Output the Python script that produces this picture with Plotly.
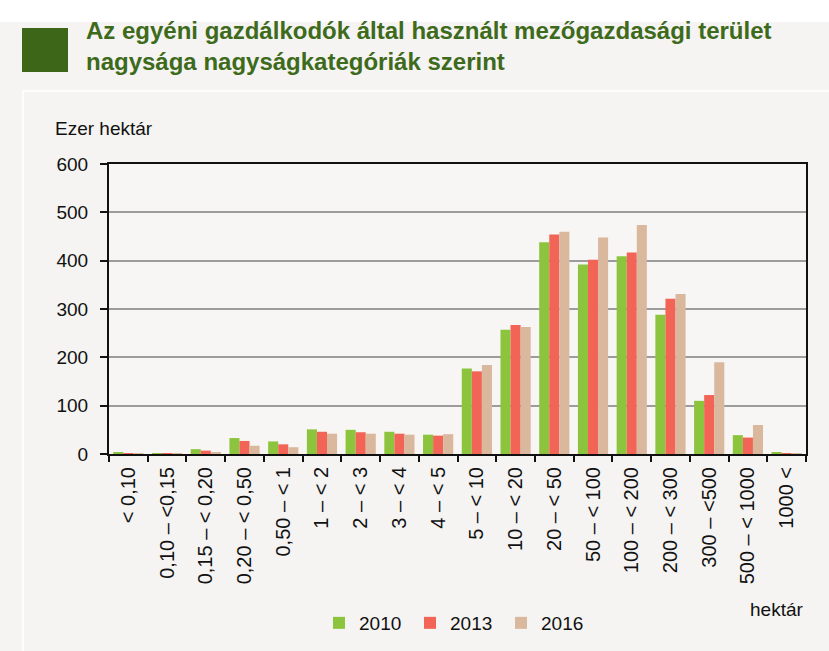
import plotly.graph_objects as go

categories = ["< 0,10", "0,10 – <0,15", "0,15 – < 0,20", "0,20 – < 0,50", "0,50 – < 1",
              "1 – < 2", "2 – < 3", "3 – < 4", "4 – < 5", "5 – < 10", "10 – < 20",
              "20 – < 50", "50 – < 100", "100 – < 200", "200 – < 300", "300 – <500",
              "500 – < 1000", "1000 <"]
v2010 = [3, 2, 10, 33, 26, 51, 50, 46, 40, 177, 257, 438, 392, 409, 288, 110, 39, 4]
v2013 = [2, 2, 7, 27, 20, 46, 45, 42, 38, 171, 267, 454, 402, 417, 321, 122, 34, 2]
v2016 = [1, 1, 3, 17, 14, 42, 42, 40, 41, 184, 263, 460, 448, 474, 331, 190, 60, 1]
years = ["2010", "2013", "2016"]
colors = ["#8cc43e", "#f26556", "#d9b89d"]

W, H = 829, 651
L, R, T, B = 109, 23, 164, 197
PW, PH = W - L - R, H - T - B

def px(x):
    return (x - L) / PW

def py(y):
    return (H - B - y) / PH

fig = go.Figure()
for name, vals, c in zip(years, [v2010, v2013, v2016], colors):
    fig.add_trace(go.Bar(x=categories, y=vals, name=name, marker=dict(color=c, line=dict(width=0))))

font = "Liberation Sans, Arial, sans-serif"
fig.update_layout(
    width=W, height=H,
    margin=dict(l=L, r=R, t=T, b=B, autoexpand=False),
    paper_bgcolor="#f5f4f2", plot_bgcolor="#f7f6f4",
    barmode="group", bargap=0.22, bargroupgap=0,
    font=dict(family=font, size=19, color="#111111"),
    showlegend=True,
    legend=dict(orientation="h", x=px(319), y=py(623), xanchor="left", yanchor="middle",
                font=dict(size=19, family=font), bgcolor="rgba(0,0,0,0)",
                itemwidth=30, tracegroupgap=0, entrywidth=46, entrywidthmode="pixels"),
    xaxis=dict(type="category", tickangle=-90, tickson="boundaries", ticks="outside",
               ticklen=6, tickwidth=2, tickcolor="#111", showline=True, linecolor="#111",
               linewidth=2, mirror=True, tickfont=dict(size=20, family=font),
               ticklabelstandoff=3, showgrid=False),
    yaxis=dict(range=[0, 600], dtick=100, ticks="outside", ticklen=7, tickwidth=2,
               tickcolor="#111", showline=True, linecolor="#111", linewidth=2, mirror=True,
               gridcolor="#9c9c9c", gridwidth=1.6, tickfont=dict(size=19, family=font),
               ticklabelstandoff=8, zeroline=False),
)

shapes = [
    dict(type="rect", xref="paper", yref="paper", x0=px(-5), x1=px(W + 5), y0=py(22), y1=py(-5),
         fillcolor="#ffffff", line=dict(width=0), layer="below"),
    dict(type="rect", xref="paper", yref="paper", x0=px(23), x1=px(W + 5), y0=py(H + 5), y1=py(91),
         fillcolor="rgba(0,0,0,0)", line=dict(color="#fdfdfc", width=2), layer="below"),
    dict(type="rect", xref="paper", yref="paper", x0=px(22), x1=px(68), y0=py(72), y1=py(28),
         fillcolor="#3d6619", line=dict(width=0)),
]
fig.update_layout(shapes=shapes)

annotations = [
    dict(text="Az egyéni gazdálkodók által használt mezőgazdasági terület<br>nagysága nagyságkategóriák szerint",
         xref="paper", yref="paper", x=px(84), y=py(15), xanchor="left", yanchor="top",
         align="left", showarrow=False,
         font=dict(family="Liberation Sans", size=24, color="#3d6a1b", weight=700)),
    dict(text="Ezer hektár", xref="paper", yref="paper", x=px(53), y=py(128),
         xanchor="left", yanchor="middle", showarrow=False, font=dict(size=19, family=font)),
    dict(text="hektár", xref="paper", yref="paper", x=px(805), y=py(609),
         xanchor="right", yanchor="middle", showarrow=False, font=dict(size=19, family=font)),
]
fig.update_layout(annotations=annotations)

fig.write_html("out.html", config={"displayModeBar": False},
               post_script="document.body.style.margin='0px';")
